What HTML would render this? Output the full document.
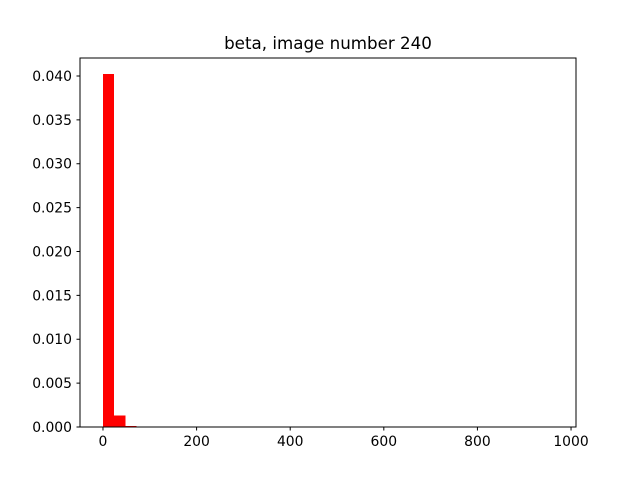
<!DOCTYPE html>
<html><head><meta charset="utf-8"><style>
body{margin:0;background:#fff;font-family:"Liberation Sans","DejaVu Sans",sans-serif;}
svg text{font-family:"DejaVu Sans","Liberation Sans",sans-serif;font-size:13.9px;fill:#000;}
</style></head><body>
<svg id="chart" width="640" height="480">
<rect width="640" height="480" fill="#fff"/>
<text x="328" y="49" text-anchor="middle" style="font-size:16.7px">beta, image number 240</text>
<g id="bars"></g>
<g id="axes"></g>
<rect x="80" y="58" width="496" height="369" fill="none" stroke="#000" stroke-width="1"/>
</svg>
<script>
const binStarts=[0,24,48];
const binValues=[0.0402,0.0013,0.0001];
const binWidth=24;
const xTicks=[0,200,400,600,800,1000];
const yTicks=[0,0.005,0.010,0.015,0.020,0.025,0.030,0.035,0.040];
const yTickLabels=["0.000","0.005","0.010","0.015","0.020","0.025","0.030","0.035","0.040"];
const X0=80,X1=576,Y0=427,Y1=58;
const xmin=-49.1,xmax=1010.6,ymin=0,ymax=0.04205;
const sx=v=>X0+(v-xmin)/(xmax-xmin)*(X1-X0);
const sy=v=>Y0-(v-ymin)/(ymax-ymin)*(Y0-Y1);
const NS="http://www.w3.org/2000/svg";
const bars=document.getElementById('bars'),axes=document.getElementById('axes');
binValues.forEach((v,i)=>{
 const r=document.createElementNS(NS,'rect');
 const x=sx(binStarts[i]),w=sx(binStarts[i]+binWidth)-x;
 r.setAttribute('x',x);r.setAttribute('width',w);
 r.setAttribute('y',sy(v));r.setAttribute('height',sy(0)-sy(v));
 r.setAttribute('fill','#ff0000');
 r.setAttribute('shape-rendering','crispEdges');
 
 
 bars.appendChild(r);
});
xTicks.forEach(t=>{
 const x=sx(t);
 const l=document.createElementNS(NS,'line');
 l.setAttribute('x1',x);l.setAttribute('x2',x);l.setAttribute('y1',427);l.setAttribute('y2',430.5);l.setAttribute('stroke','#000');
 
 
 axes.appendChild(l);
 const tx=document.createElementNS(NS,'text');
 tx.setAttribute('x',x);tx.setAttribute('y',446);tx.setAttribute('text-anchor','middle');tx.textContent=t;
 
 
 axes.appendChild(tx);
});
yTicks.forEach((t,i)=>{
 const y=sy(t);
 const l=document.createElementNS(NS,'line');
 l.setAttribute('x1',76.5);l.setAttribute('x2',80);l.setAttribute('y1',y);l.setAttribute('y2',y);l.setAttribute('stroke','#000');
 
 
 axes.appendChild(l);
 const tx=document.createElementNS(NS,'text');
 tx.setAttribute('x',72);tx.setAttribute('y',y+5);tx.setAttribute('text-anchor','end');tx.textContent=yTickLabels[i];
 
 
 axes.appendChild(tx);
});
</script>
</body></html>
